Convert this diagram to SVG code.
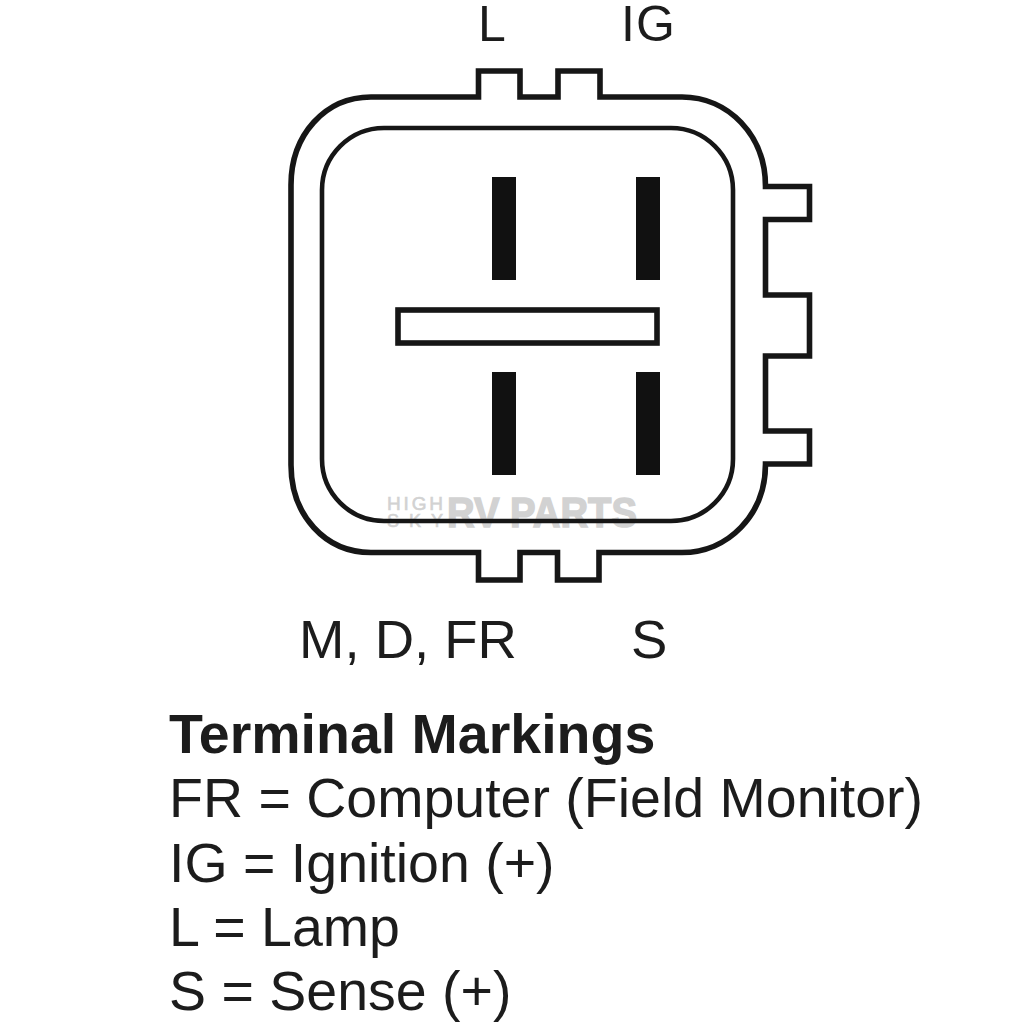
<svg xmlns="http://www.w3.org/2000/svg" width="1024" height="1024" viewBox="0 0 1024 1024">
<style>
text{font-family:"Liberation Sans",Arial,sans-serif;fill:#1c1c1c}
.l{font-size:54.5px}
.t{font-size:55.5px}
.o{fill:none;stroke:#161616;stroke-width:5.6}
.i{fill:none;stroke:#161616;stroke-width:4.6}
.b{fill:#111}
.w{fill:#d2d2d2;stroke:#d2d2d2}
</style>
<rect width="1024" height="1024" fill="#fff"/>
<g id="watermark">
<text class="w" x="387" y="510" font-size="19" stroke-width="0.6" textLength="56">HIGH</text>
<text class="w" x="387" y="527" font-size="18" stroke-width="0.6" textLength="56">SKY</text>
<text class="w" x="447" y="527" font-size="43" font-weight="bold" stroke-width="1.5" textLength="190" lengthAdjust="spacingAndGlyphs">RV PARTS</text>
</g>
<g id="connector-housing">
<path class="o" d="M478.500 97V71H520V97H558V71H600V97H682C728 97 765.500 135 765.500 186.500H809.500V219.500H765.500V295H809.500V356H765.500V431H809.500V464H765.500C765.500 515 728 552.500 682 552.500H599V580H557.500V552.500H520V580H478.500V552.500H371C325 552.500 291 515 291 465V185C291 135 325 97 371 97Z"/>
<rect class="i" x="322" y="128" width="411" height="393" rx="62"/>
</g>
<g id="terminals">
<rect class="b" x="492" y="177" width="24" height="103"/>
<rect class="b" x="636" y="177" width="24" height="103"/>
<rect class="o" x="398" y="310" width="259" height="33"/>
<rect class="b" x="492" y="372" width="24" height="103"/>
<rect class="b" x="636" y="372" width="24" height="103"/>
</g>
<g id="labels">
<text x="478" y="41" font-size="50">L</text>
<text x="621" y="41" font-size="50" textLength="54">IG</text>
<text class="l" x="299" y="658">M, D, FR</text>
<text class="l" x="631" y="658">S</text>
</g>
<g id="legend">
<text class="t" x="169" y="753" font-weight="bold">Terminal Markings</text>
<text class="t" x="169" y="817">FR = Computer (Field Monitor)</text>
<text class="t" x="169" y="882">IG = Ignition (+)</text>
<text class="t" x="169" y="946">L = Lamp</text>
<text class="t" x="169" y="1010">S = Sense (+)</text>
</g>
</svg>
